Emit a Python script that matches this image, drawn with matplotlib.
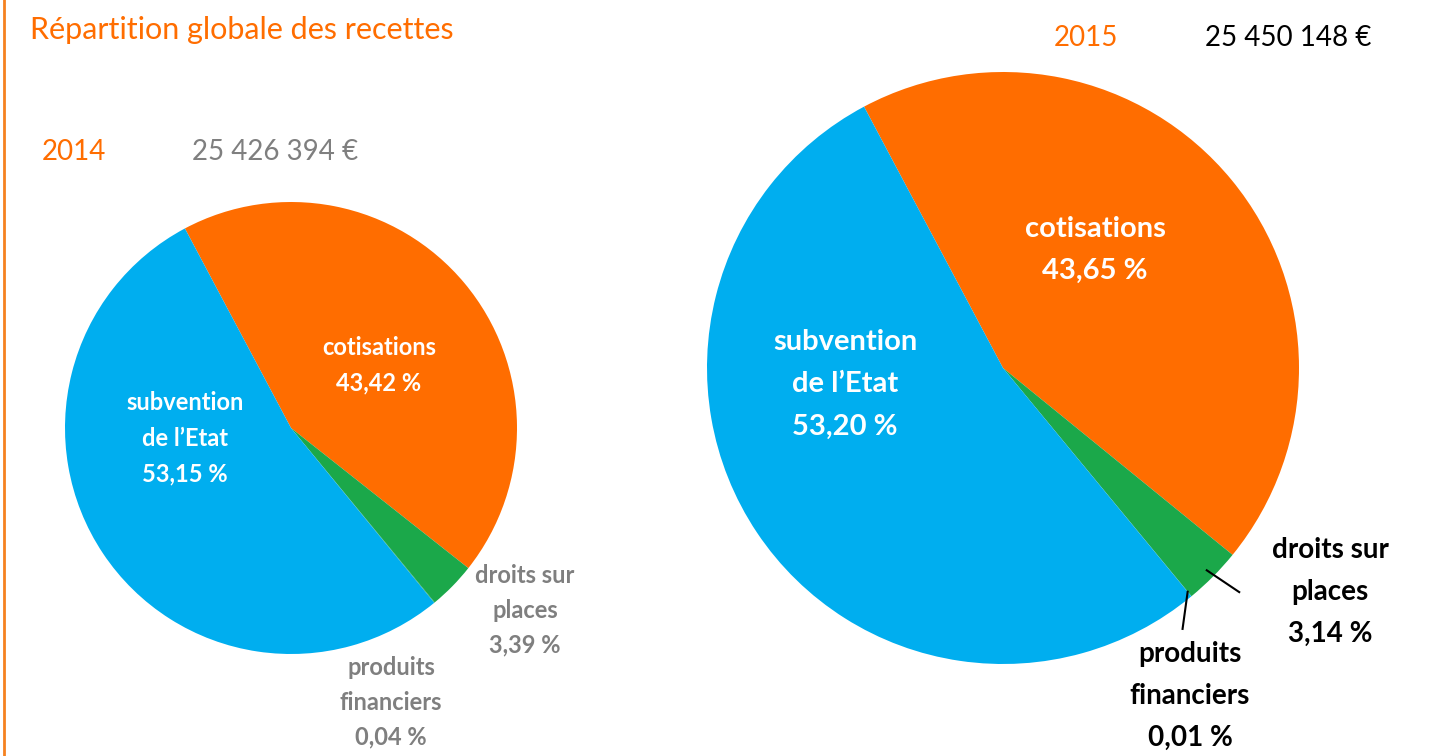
import numpy as np
import matplotlib
matplotlib.use("Agg")
import matplotlib.pyplot as plt

plt.rcParams['font.family'] = ['Lato', 'DejaVu Sans']

# data
categories = ["cotisations", "droits sur places", "produits financiers", "subvention de l'Etat"]
labels_txt = ["cotisations", "droits sur\nplaces", "produits\nfinanciers", "subvention\nde l\u2019Etat"]
shares_2014 = [43.42, 3.39, 0.04, 53.15]
shares_2015 = [43.65, 3.14, 0.01, 53.20]
total_2014 = "25 426 394 \u20ac"
total_2015 = "25 450 148 \u20ac"
colors = ['#FF6D00', '#1BA84A', '#1BA84A', '#00AEEF']

ORANGE = '#FF6D00'
GREY = '#7F7F7F'
W, H = 1442, 756

fig = plt.figure(figsize=(W / 100, H / 100), dpi=100)


def fx(x):
    return x / W


def fy(y):
    return 1 - y / H


def pct(v):
    return ("%.2f %%" % v).replace('.', ',')


def make_pie(cx, cy, r, shares):
    ax = fig.add_axes([fx(cx - r), fy(cy + r), 2 * r / W, 2 * r / H])
    wedges, _ = ax.pie(shares, colors=colors, startangle=118, counterclock=False,
                       radius=1, wedgeprops=dict(linewidth=0))
    ax.set_xlim(-1, 1)
    ax.set_ylim(-1, 1)
    ax.axis('off')
    return ax, wedges


def label(x, y, txt, color, fs, ls):
    fig.text(fx(x), fy(y), txt, color=color, fontsize=fs, fontweight='bold',
             ha='center', va='center', linespacing=ls)


# border line on the left
fig.add_artist(plt.Line2D([fx(4), fx(4)], [0, 1], color='#F58220', lw=2))

fig.text(fx(30), fy(30), "R\u00e9partition globale des recettes", color=ORANGE,
         fontsize=22, ha='left', va='center')

# 2014
fig.text(fx(42), fy(152), "2014", color=ORANGE, fontsize=20, ha='left', va='center')
fig.text(fx(192), fy(152), total_2014, color=GREY, fontsize=20, ha='left', va='center')
ax1, w1 = make_pie(291, 428, 226, shares_2014)
label(379, 365, labels_txt[0] + "\n" + pct(shares_2014[0]), 'white', 17, 1.66)
label(185, 438, labels_txt[3] + "\n" + pct(shares_2014[3]), 'white', 17, 1.66)
label(525, 610, labels_txt[1] + "\n" + pct(shares_2014[1]), GREY, 17, 1.62)
label(391, 702, labels_txt[2] + "\n" + pct(shares_2014[2]), GREY, 17, 1.62)

# 2015
fig.text(fx(1054), fy(38), "2015", color=ORANGE, fontsize=20, ha='left', va='center')
fig.text(fx(1205), fy(38), total_2015, color='black', fontsize=20, ha='left', va='center')
ax2, w2 = make_pie(1003, 368, 296, shares_2015)
label(1095, 250, labels_txt[0] + "\n" + pct(shares_2015[0]), 'white', 21, 1.78)
label(845, 384, labels_txt[3] + "\n" + pct(shares_2015[3]), 'white', 21, 1.78)
label(1330, 592, labels_txt[1] + "\n" + pct(shares_2015[1]), 'black', 20, 1.75)
label(1190, 696, labels_txt[2] + "\n" + pct(shares_2015[2]), 'black', 20, 1.75)

# leader lines on 2015 pie
for wdg, (r0, r1, dang) in zip([w2[1], w2[2]], [(0.97, 1.10, 1.3), (0.98, 1.07, -5)]):
    a = np.deg2rad((wdg.theta1 + wdg.theta2) / 2)
    a2 = a + np.deg2rad(dang)
    ax2.plot([r0 * np.cos(a), r1 * np.cos(a2)], [r0 * np.sin(a), r1 * np.sin(a2)],
             color='black', lw=1.5, clip_on=False)

fig.savefig("out.png", dpi=100)
